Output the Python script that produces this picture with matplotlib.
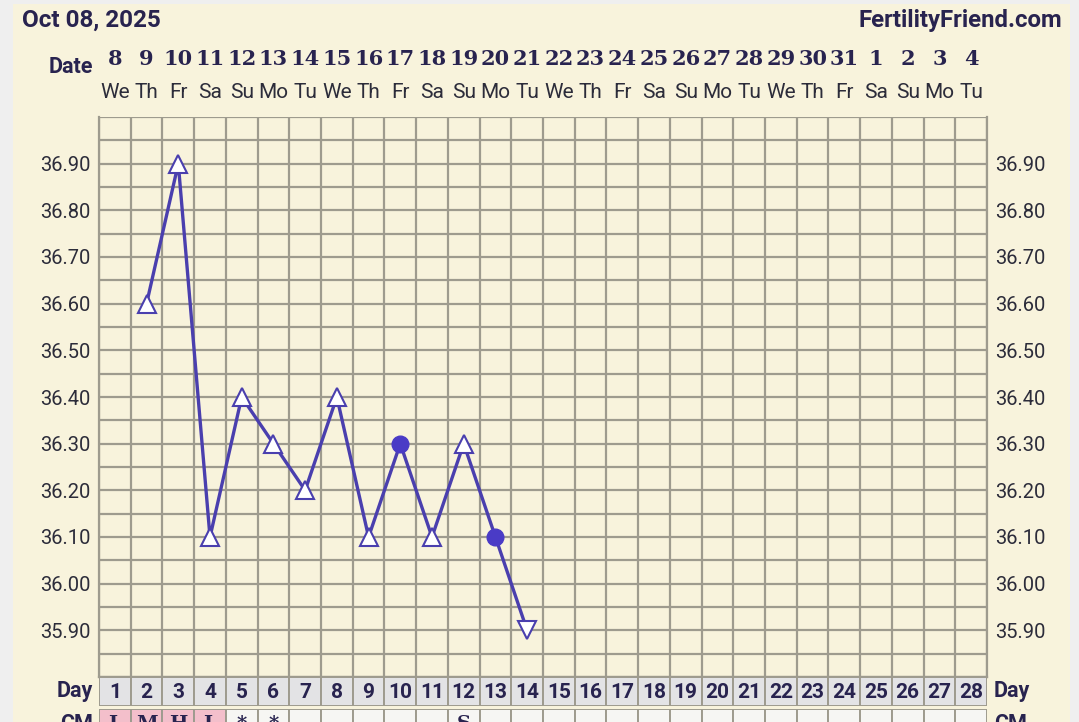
import matplotlib.pyplot as plt
import matplotlib.transforms as mtransforms
from matplotlib.patches import Rectangle
import numpy as np

# ---- data ----
cycle_days = list(range(1, 29))
dates = [8, 9, 10, 11, 12, 13, 14, 15, 16, 17, 18, 19, 20, 21, 22, 23, 24,
         25, 26, 27, 28, 29, 30, 31, 1, 2, 3, 4]
weekdays = ["We", "Th", "Fr", "Sa", "Su", "Mo", "Tu"] * 4
temp_days = [2, 3, 4, 5, 6, 7, 8, 9, 10, 11, 12, 13, 14]
temps = [36.60, 36.90, 36.10, 36.40, 36.30, 36.20, 36.40, 36.10, 36.30,
         36.10, 36.30, 36.10, 35.90]
# marker type for each temperature: t = open triangle, c = filled circle, v = low triangle
marker_kind = ["t", "t", "t", "t", "t", "t", "t", "t", "c", "t", "t", "c", "v"]
cm_labels = ["L", "M", "H", "L", "*", "*", "", "", "", "", "", "S"] + [""] * 16
cm_pink_days = [1, 2, 3, 4]
y_labels = [35.90, 36.00, 36.10, 36.20, 36.30, 36.40, 36.50, 36.60, 36.70,
            36.80, 36.90]

W, H = 1079, 722
ink = "#28234f"
cream = "#f8f3dc"
gridc = "#9e9b8e"
linec = "#4a3fae"
dotc = "#4a3bc6"


def fx(px):
    return px / W


def fy(py):
    return 1 - py / H


fig = plt.figure(figsize=(W / 100, H / 100), dpi=100)
fig.patch.set_facecolor("#efefef")
fig.patches.append(Rectangle((fx(13), 0), fx(1070) - fx(13), fy(4), transform=fig.transFigure,
                             facecolor=cream, edgecolor="none", zorder=-5))

left, right = 99, 987
ax = fig.add_axes([fx(left), fy(677), fx(right - left), (677 - 117) / H])
ax.set_facecolor(cream)
ax.set_xlim(0.5, 28.5)
ax.set_ylim(35.80, 37.00)
ax.set_xticks(np.arange(0.5, 29, 1))
ax.set_xticklabels([])
ax.set_yticks(y_labels)
ax.set_yticklabels([f"{v:.2f}" for v in y_labels])
ax.set_yticks(np.arange(35.80, 37.001, 0.05), minor=True)
ax.tick_params(axis="both", which="both", length=0)
ax.tick_params(axis="y", labelright=True, labelsize=14.5, labelcolor="#2c2c3a", pad=6)
for lab in ax.get_yticklabels():
    lab.set_fontfamily("Roboto")
ax.grid(True, which="both", color=gridc, lw=1.6)
ax.set_axisbelow(True)
for s in ax.spines.values():
    s.set_color(gridc)
    s.set_linewidth(1.6)
ax.spines["top"].set_visible(False)

# temperature line and markers
ax.plot(temp_days, temps, color=linec, lw=2.4, zorder=3)
style = {"t": dict(marker="^", mfc="white", mec=linec, ms=13.5, mew=1.5),
         "v": dict(marker="v", mfc="white", mec=linec, ms=13.5, mew=1.5),
         "c": dict(marker="o", mfc=dotc, mec=dotc, ms=12, mew=1)}
for d, t, k in zip(temp_days, temps, marker_kind):
    ax.plot([d], [t], ls="none", zorder=4, **style[k])

# header rows
hdr = mtransforms.blended_transform_factory(ax.transData, fig.transFigure)
for d, dt, wd in zip(cycle_days, dates, weekdays):
    fig.text(d, fy(59), str(dt), transform=hdr, ha="center", va="center",
             fontsize=15, fontweight="bold", family="DejaVu Serif", color=ink)
    fig.text(d, fy(92), wd, transform=hdr, ha="center", va="center",
             fontsize=15, family="Roboto", color="#2c2c3a")
fig.text(fx(93), fy(67), "Date", ha="right", va="center", fontsize=15.5,
         fontweight="bold", family="Roboto", color=ink)
fig.text(fx(22), fy(20), "Oct 08, 2025", ha="left", va="center", fontsize=17.5,
         fontweight="bold", family="Roboto", color=ink)
fig.text(fx(1062), fy(20), "FertilityFriend.com", ha="right", va="center",
         fontsize=17.3, fontweight="bold", family="Roboto", color=ink)

# cycle day row
ax_day = fig.add_axes([fx(left), fy(706), fx(right - left), 29 / H])
ax_day.set_xlim(0.5, 28.5)
ax_day.set_ylim(0, 1)
ax_day.bar(cycle_days, 1, width=1, bottom=0, color="#e3e3e5", edgecolor=gridc, lw=1.4)
for d in cycle_days:
    ax_day.text(d, 0.47, str(d), ha="center", va="center", fontsize=15,
                fontweight="bold", family="Roboto", color=ink)
ax_day.axis("off")
fig.text(fx(93), fy(691), "Day", ha="right", va="center", fontsize=15.5,
         fontweight="bold", family="Roboto", color=ink)
fig.text(fx(994), fy(691), "Day", ha="left", va="center", fontsize=15.5,
         fontweight="bold", family="Roboto", color=ink)

# cervical mucus row (cut off at the bottom edge, as in the original)
ax_cm = fig.add_axes([fx(left), fy(739), fx(right - left), 30 / H])
ax_cm.set_xlim(0.5, 28.5)
ax_cm.set_ylim(0, 1)
cm_colors = ["#f3bfcb" if d in cm_pink_days else "#f6f6f3" for d in cycle_days]
ax_cm.bar(cycle_days, 1, width=1, bottom=0, color=cm_colors, edgecolor=gridc, lw=1.4)
for d, lab in zip(cycle_days, cm_labels):
    if lab:
        ax_cm.text(d, 0.5, lab, ha="center", va="center", fontsize=14,
                   fontweight="bold", family="DejaVu Serif", color=ink)
ax_cm.axis("off")
fig.text(fx(93), fy(724), "CM", ha="right", va="center", fontsize=15.5,
         fontweight="bold", family="Roboto", color=ink)
fig.text(fx(994), fy(724), "CM", ha="left", va="center", fontsize=15.5,
         fontweight="bold", family="Roboto", color=ink)

fig.savefig("out.png", dpi=100)
